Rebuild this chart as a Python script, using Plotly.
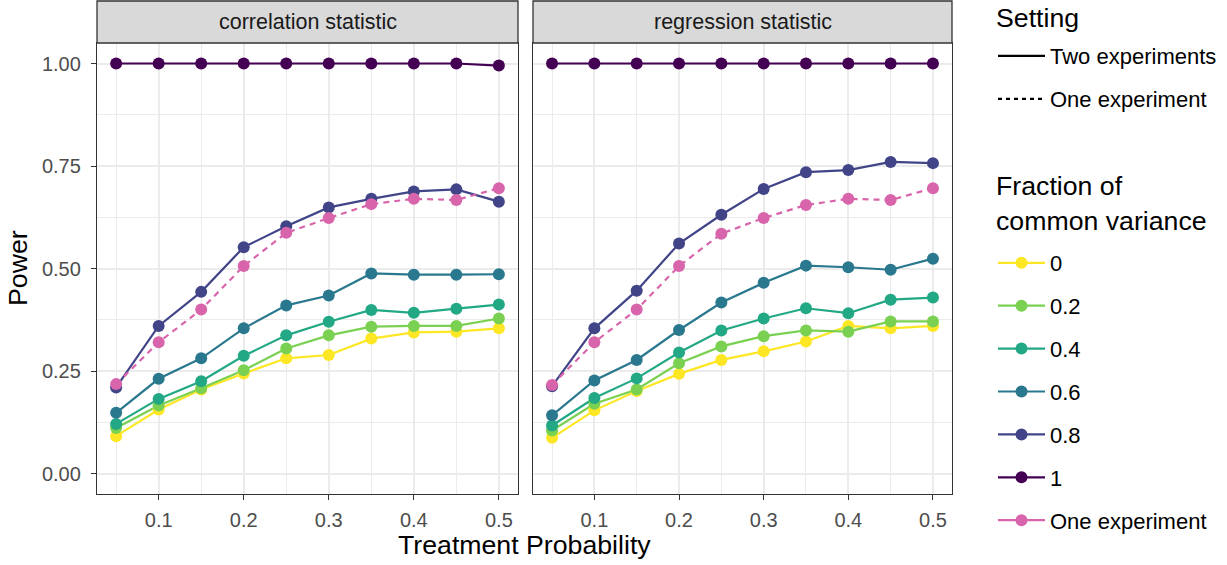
import plotly.graph_objects as go

W, H = 1227, 565

treat_prob = [0.05, 0.1, 0.15, 0.2, 0.25, 0.3, 0.35, 0.4, 0.45, 0.5]
fractions = ["0", "0.2", "0.4", "0.6", "0.8", "1"]
panels = ["correlation statistic", "regression statistic"]

# Two experiments: power by fraction of common variance
corr_two = {
    "0":   [0.091, 0.156, 0.205, 0.244, 0.281, 0.289, 0.329, 0.344, 0.346, 0.354],
    "0.2": [0.111, 0.166, 0.208, 0.252, 0.305, 0.337, 0.358, 0.360, 0.360, 0.378],
    "0.4": [0.121, 0.182, 0.225, 0.287, 0.337, 0.370, 0.399, 0.392, 0.402, 0.412],
    "0.6": [0.148, 0.231, 0.281, 0.354, 0.410, 0.434, 0.488, 0.485, 0.485, 0.486],
    "0.8": [0.210, 0.360, 0.443, 0.552, 0.603, 0.649, 0.670, 0.688, 0.693, 0.663],
    "1":   [1.000, 1.000, 1.000, 1.000, 1.000, 1.000, 1.000, 1.000, 1.000, 0.995],
}
regr_two = {
    "0":   [0.087, 0.154, 0.201, 0.243, 0.277, 0.298, 0.322, 0.360, 0.354, 0.360],
    "0.2": [0.105, 0.170, 0.205, 0.269, 0.310, 0.335, 0.349, 0.346, 0.371, 0.371],
    "0.4": [0.117, 0.184, 0.232, 0.295, 0.349, 0.378, 0.403, 0.391, 0.424, 0.429],
    "0.6": [0.142, 0.227, 0.277, 0.350, 0.417, 0.465, 0.507, 0.503, 0.497, 0.524],
    "0.8": [0.213, 0.354, 0.446, 0.561, 0.631, 0.694, 0.735, 0.740, 0.760, 0.757],
    "1":   [1.000, 1.000, 1.000, 1.000, 1.000, 1.000, 1.000, 1.000, 1.000, 1.000],
}
# One experiment
corr_one = [0.218, 0.320, 0.400, 0.506, 0.587, 0.623, 0.657, 0.670, 0.667, 0.696]
regr_one = [0.216, 0.320, 0.400, 0.506, 0.585, 0.623, 0.655, 0.670, 0.667, 0.696]

y_ticks = [0.0, 0.25, 0.5, 0.75, 1.0]
x_ticks = [0.1, 0.2, 0.3, 0.4, 0.5]

colors = {"0": "#FDE725", "0.2": "#7AD151", "0.4": "#22A884",
          "0.6": "#2A788E", "0.8": "#414487", "1": "#440154"}
pink = "#D865AC"

FONT = "Liberation Sans, Arial, sans-serif"
fig = go.Figure()

panel_data = [("x", "y", corr_two, corr_one), ("x2", "y2", regr_two, regr_one)]
LW = 2.2
MS = 12
# lines first (like ggplot geom_line), then points
for xa, ya, two, one in panel_data:
    for f in fractions:
        fig.add_trace(go.Scatter(x=treat_prob, y=two[f], xaxis=xa, yaxis=ya, mode="lines",
                                 line=dict(color=colors[f], width=LW), showlegend=False, hoverinfo="skip"))
    fig.add_trace(go.Scatter(x=treat_prob, y=one, xaxis=xa, yaxis=ya, mode="lines",
                             line=dict(color=pink, width=LW, dash="6px,5px"), showlegend=False, hoverinfo="skip"))
for xa, ya, two, one in panel_data:
    for f in fractions:
        fig.add_trace(go.Scatter(x=treat_prob, y=two[f], xaxis=xa, yaxis=ya, mode="markers",
                                 marker=dict(color=colors[f], size=MS), showlegend=False))
    fig.add_trace(go.Scatter(x=treat_prob, y=one, xaxis=xa, yaxis=ya, mode="markers",
                             marker=dict(color=pink, size=MS), showlegend=False))

# legend entries (Setting)
fig.add_trace(go.Scatter(x=[None], y=[None], mode="lines", name="Two experiments",
                         line=dict(color="black", width=LW), legend="legend", legendgroup="s1"))
fig.add_trace(go.Scatter(x=[None], y=[None], mode="lines", name="One experiment",
                         line=dict(color="black", width=LW, dash="4px,4px"), legend="legend", legendgroup="s2"))
# legend entries (Fraction of common variance)
for f in fractions:
    fig.add_trace(go.Scatter(x=[None], y=[None], mode="lines+markers", name=f,
                             line=dict(color=colors[f], width=LW), marker=dict(color=colors[f], size=MS),
                             legend="legend2", legendgroup="f" + f))
fig.add_trace(go.Scatter(x=[None], y=[None], mode="lines+markers", name="One experiment",
                         line=dict(color=pink, width=LW), marker=dict(color=pink, size=MS),
                         legend="legend2", legendgroup="fone"))

def px_x(p):
    return p / W

def px_y(p):
    return 1 - p / H

left_dom = [px_x(97), px_x(518)]
right_dom = [px_x(533), px_x(952)]
y_dom = [px_y(494), px_y(43)]

grid_major = "#EBEBEB"
common_x = dict(range=[0.0275, 0.5225], tickvals=x_ticks, ticktext=[f"{v:g}" for v in x_ticks],
                showgrid=True, gridcolor=grid_major, gridwidth=1.6, zeroline=False,
                showline=True, linecolor="#333333", linewidth=1.3, mirror=True,
                ticks="outside", ticklen=5, tickwidth=1.3, tickcolor="#333333", ticklabelstandoff=3,
                tickfont=dict(family=FONT, size=20, color="#4D4D4D"),
                minor=dict(tickvals=[0.05, 0.15, 0.25, 0.35, 0.45], showgrid=True,
                           gridcolor=grid_major, gridwidth=0.8, ticks=""))
common_y = dict(range=[-0.05, 1.05], tickvals=y_ticks, ticktext=[f"{v:.2f}" for v in y_ticks],
                showgrid=True, gridcolor=grid_major, gridwidth=1.6, zeroline=False,
                showline=True, linecolor="#333333", linewidth=1.3, mirror=True,
                tickfont=dict(family=FONT, size=20, color="#4D4D4D"),
                minor=dict(tickvals=[0.125, 0.375, 0.625, 0.875], showgrid=True,
                           gridcolor=grid_major, gridwidth=0.8, ticks=""))

LEG_FONT = 22
LEG_X = 993
fig.update_layout(
    width=W, height=H, margin=dict(l=0, r=0, t=0, b=0, autoexpand=False),
    paper_bgcolor="white", plot_bgcolor="white",
    font=dict(family=FONT, color="black"),
    xaxis=dict(domain=left_dom, anchor="y", automargin=False, **common_x),
    xaxis2=dict(domain=right_dom, anchor="y2", automargin=False, **common_x),
    yaxis=dict(domain=y_dom, anchor="x", ticks="outside", ticklen=5, tickwidth=1.3,
               tickcolor="#333333", showticklabels=True, automargin=False, ticklabelstandoff=6,
               **common_y),
    yaxis2=dict(domain=y_dom, anchor="x2", ticks="", showticklabels=False, automargin=False, **common_y),
    legend=dict(x=px_x(LEG_X), y=px_y(35), xanchor="left", yanchor="top",
                font=dict(family=FONT, size=LEG_FONT, color="black"), tracegroupgap=11.5,
                bgcolor="rgba(0,0,0,0)", itemwidth=47),
    legend2=dict(x=px_x(LEG_X), y=px_y(242), xanchor="left", yanchor="top",
                 font=dict(family=FONT, size=LEG_FONT, color="black"), tracegroupgap=11.3,
                 bgcolor="rgba(0,0,0,0)", itemwidth=47),
    showlegend=True,
)

shapes = []
annotations = []
for dom, label in [(left_dom, panels[0]), (right_dom, panels[1])]:
    shapes.append(dict(type="rect", xref="paper", yref="paper", x0=dom[0], x1=dom[1],
                       y0=px_y(43), y1=px_y(1), fillcolor="#D9D9D9",
                       line=dict(color="#333333", width=1.3), layer="above"))
    annotations.append(dict(x=(dom[0] + dom[1]) / 2, y=px_y(22), xref="paper", yref="paper",
                            text=label, showarrow=False, xanchor="center", yanchor="middle",
                            font=dict(family=FONT, size=21.5, color="#1A1A1A")))
annotations.append(dict(x=px_x(524.5), y=px_y(545), xref="paper", yref="paper",
                        text="Treatment Probability", showarrow=False, xanchor="center", yanchor="middle",
                        font=dict(family=FONT, size=26.7, color="black")))
annotations.append(dict(x=px_x(18), y=px_y(268), xref="paper", yref="paper",
                        text="Power", showarrow=False, textangle=-90, xanchor="center", yanchor="middle",
                        font=dict(family=FONT, size=26.7, color="black")))
# legend titles
annotations.append(dict(x=px_x(994), y=px_y(1), xref="paper", yref="paper",
                        text="Setting", showarrow=False, xanchor="left", yanchor="top",
                        font=dict(family=FONT, size=26.7, color="black")))
annotations.append(dict(x=px_x(994), y=px_y(203), xref="paper", yref="paper",
                        text="Fraction of<br>common variance", showarrow=False, xanchor="left",
                        yanchor="middle", align="left",
                        font=dict(family=FONT, size=26.7, color="black")))
fig.update_layout(shapes=shapes, annotations=annotations)

fig.write_html("out.html", config={"displayModeBar": False},
               post_script="document.body.style.margin='0';document.body.style.overflow='hidden';")
